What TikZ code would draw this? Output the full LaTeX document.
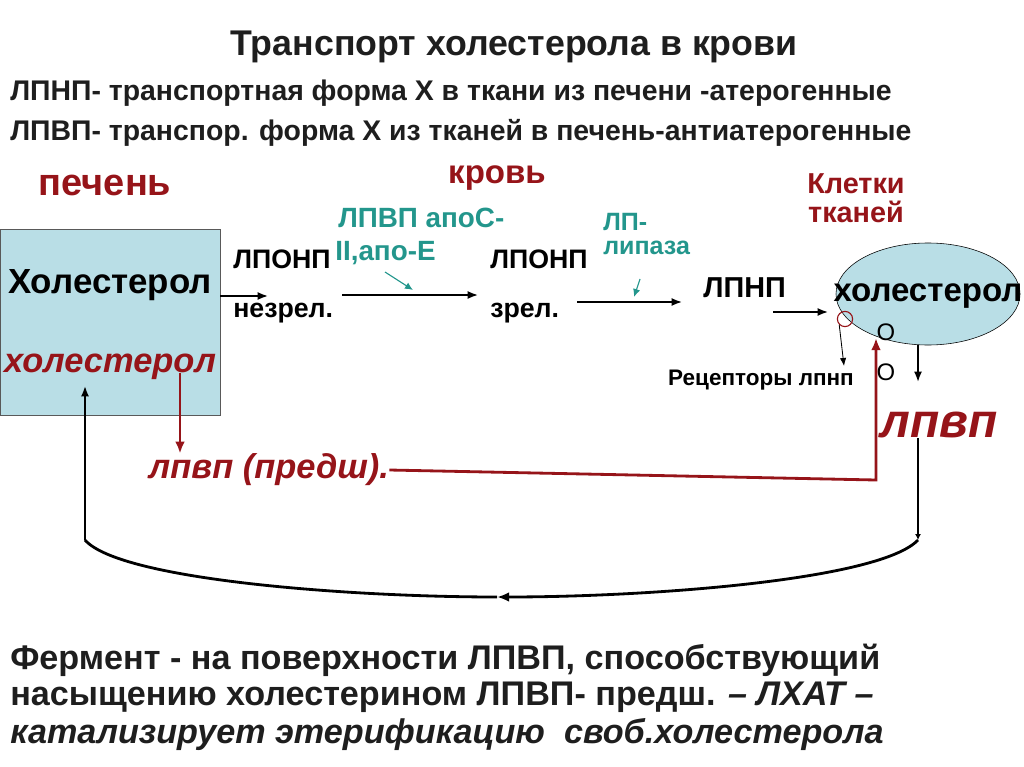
\documentclass[tikz,border=0pt]{standalone}
\usepackage{fontspec}
\setmainfont{Liberation Sans}
\usetikzlibrary{positioning,arrows.meta,shapes.geometric}
\definecolor{liverred}{RGB}{150,20,25}
\definecolor{apoteal}{RGB}{35,150,140}
\definecolor{cellblue}{RGB}{185,222,230}
\definecolor{textgray}{RGB}{30,30,30}
\tikzset{
  flowarrow/.style={-{Latex[length=2.6mm,width=2mm]}, very thick},
  thinarrow/.style={-{Latex[length=2mm,width=1.6mm]}, semithick},
  tealarrow/.style={-{Latex[length=2mm,width=1.8mm]}, apoteal, thick},
  redarrow/.style={-{Latex[length=3mm,width=2.4mm]}, liverred, line width=2pt},
  loopline/.style={line width=2pt},
  liverbox/.style={draw=gray!70!black, fill=cellblue, minimum width=5.5cm, minimum height=4.65cm, inner sep=0pt},
  cellell/.style={ellipse, draw=black, fill=cellblue, minimum width=4.6cm, minimum height=2.55cm, inner sep=0pt},
  titletext/.style={font=\fontsize{25.4}{30}\selectfont\bfseries, inner sep=0pt, text=textgray},
  heading/.style={font=\fontsize{20.2}{24}\selectfont\bfseries, inner sep=0pt, anchor=west, text=textgray},
  region/.style={font=\fontsize{27}{31}\selectfont\bfseries, inner sep=0pt, text=liverred},
  bigtext/.style={font=\fontsize{24.8}{29}\selectfont\bfseries, inner sep=0pt},
  midtext/.style={font=\fontsize{19}{23}\selectfont\bfseries, inner sep=0pt, anchor=west},
  apotext/.style={font=\fontsize{19.8}{23}\selectfont\bfseries, inner sep=0pt, anchor=west, text=apoteal},
  lipasetext/.style={font=\fontsize{17.8}{21}\selectfont\bfseries, inner sep=0pt, anchor=west, text=apoteal},
  smalltext/.style={font=\fontsize{16}{19}\selectfont\bfseries, inner sep=0pt},
  otext/.style={font=\fontsize{17}{20}\selectfont, inner sep=0pt},
  redital/.style={font=\fontsize{24.5}{29}\selectfont\bfseries\itshape, inner sep=0pt, text=liverred},
  bottomtext/.style={font=\fontsize{24.3}{28}\selectfont\bfseries, inner sep=0pt, anchor=west, text=textgray}
}
\begin{document}
\begin{tikzpicture}[>=Latex, x=0.025cm, y=-0.025cm]
  \useasboundingbox (0,0) rectangle (1024,767);
  \node[titletext] (title) at (514,47) {Транспорт холестерола в крови};
  \node[heading] (ldlline) at (10,93) {ЛПНП- транспортная форма Х в ткани из печени -атерогенные};
  \node[heading] (hdlline) at (10,133) {ЛПВП- транспор. форма Х из тканей в печень-антиатерогенные};
  \node[region] (liverlbl) at (105,185) {печень};
  \node[region, font=\fontsize{23.5}{27}\selectfont\bfseries] (bloodlbl) at (497,178) {кровь};
  \node[region, font=\fontsize{20.5}{21}\selectfont\bfseries, align=center] (celllbl) at (856,198) {Клетки\\тканей};
  \node[liverbox] (liver) at (110,322) {};
  \node[bigtext] (chol) at (110,285) {Холестерол};
  \node[redital] (cholr) at (110,367) {холестерол};
  \node[midtext] (vldla) at (233,259) {ЛПОНП};
  \node[midtext] (immat) at (233,313) {незрел.};
  \node[apotext] (apoa) at (338,218) {ЛПВП апоС-};
  \node[apotext] (apob) at (335,253) {II,апо-Е};
  \node[midtext] (vldlb) at (490,259) {ЛПОНП};
  \node[midtext] (mat) at (490,313) {зрел.};
  \node[lipasetext] (lpa) at (603,222) {ЛП-};
  \node[lipasetext] (lpb) at (603,248) {липаза};
  \node[midtext, font=\fontsize{20.5}{24}\selectfont\bfseries] (ldl) at (703,288) {ЛПНП};
  \node[cellell] (cell) at (928,294) {};
  \node[bigtext, font=\fontsize{23.5}{27}\selectfont\bfseries] (cellchol) at (928,296) {холестерол};
  \node[circle, draw=liverred, thick, minimum size=0.38cm, inner sep=0pt] (rcpt) at (845,319) {};
  \node[otext] (oa) at (886,332) {O};
  \node[otext] (ob) at (886,372) {O};
  \node[smalltext] (rcptlbl) at (761,380) {Рецепторы лпнп};
  \node[redital, font=\fontsize{34}{38}\selectfont\bfseries\itshape] (hdl) at (939,425) {лпвп};
  \node[redital] (prehdl) at (269,470) {лпвп (предш).};
  \node[bottomtext] (enza) at (10,660) {Фермент - на поверхности ЛПВП, способствующий};
  \node[bottomtext] (enzb) at (10,697) {насыщению холестерином ЛПВП- предш. \textit{– ЛХАТ –}};
  \node[bottomtext, font=\fontsize{24.3}{28}\selectfont\bfseries\itshape] (enzc) at (10,735) {катализирует этерификацию\ \ своб.холестерола};

  \coordinate (a1end) at (268,296);
  \coordinate (a2s) at (342,295);
  \coordinate (a2e) at (478,295);
  \coordinate (a3s) at (577,302);
  \coordinate (a3e) at (682,302);
  \coordinate (a4s) at (773,312);
  \coordinate (a4e) at (828,312);
  \coordinate (apotail) at (385,272);
  \coordinate (apotip) at (413,290);
  \coordinate (liptail) at (640,279);
  \coordinate (liptip) at (634,297);
  \coordinate (rcpttip) at (844,366);
  \coordinate (redtop) at (180,373);
  \coordinate (rcorner) at (876,480);
  \coordinate (rtip) at (876,338);
  \coordinate (hdltop) at (918,382);
  \coordinate (loopr) at (918,540);
  \coordinate (loopmid) at (497,597);
  \coordinate (loopl) at (85,540);
  \coordinate (cholin) at (85,386);

  \draw[flowarrow] (liver.east |- a1end) -- (a1end);
  \draw[flowarrow] (a2s) -- (a2e);
  \draw[flowarrow] (a3s) -- (a3e);
  \draw[flowarrow] (a4s) -- (a4e);
  \draw[tealarrow] (apotail) -- (apotip);
  \draw[tealarrow] (liptail) -- (liptip);
  \draw[thinarrow] (rcpt.south west) -- (rcpttip);
  \draw[redarrow] (redtop) -- (prehdl.north -| redtop);
  \draw[redarrow] (prehdl.east) -- (rcorner) -- (rtip);
  \draw[flowarrow] (hdltop |- cell.south) -- (hdltop);
  \draw[loopline, -{Latex[length=1.5mm,width=1.5mm]}] (hdl.south -| loopr) -- (loopr);
  \draw[loopline, -{Latex[length=3mm,width=2.4mm]}] (loopr) .. controls (880,580) and (650,597) .. (loopmid);
  \draw[loopline] (loopmid) .. controls (350,597) and (120,580) .. (loopl);
  \draw[flowarrow] (loopl) -- (cholin);
\end{tikzpicture}
\end{document}
